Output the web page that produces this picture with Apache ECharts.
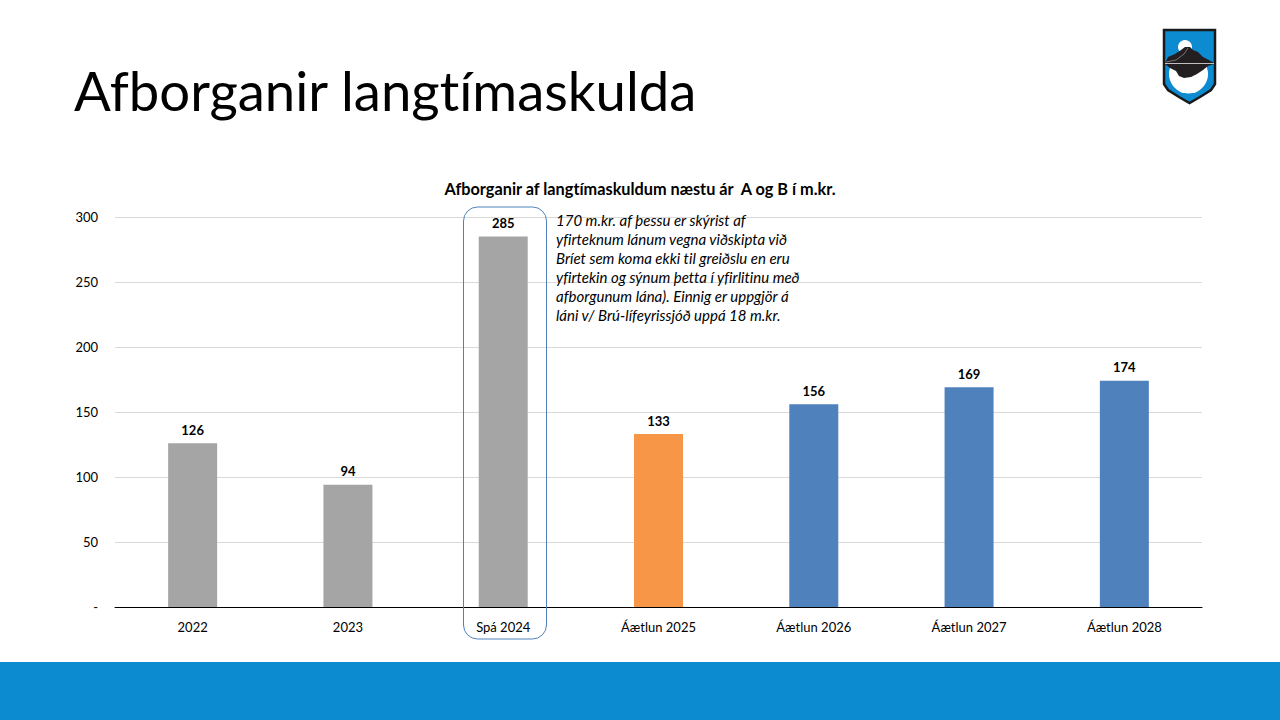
<!DOCTYPE html>
<html><head><meta charset="utf-8">
<style>html,body{margin:0;padding:0;background:#fff}#c{width:1280px;height:720px}
#c text{font-variant-ligatures:none}</style>
<script src="https://cdn.jsdelivr.net/npm/echarts@6/dist/echarts.min.js"></script></head>
<body><div id="c"></div>
<script>
const categories=['2022','2023','Spá 2024','Áætlun 2025','Áætlun 2026','Áætlun 2027','Áætlun 2028'];
const values=[126,94,285,133,156,169,174];
const barColors=['#A5A5A5','#A5A5A5','#A5A5A5','#F79646','#4F81BD','#4F81BD','#4F81BD'];
const noteLines=['170 m.kr. af þessu er skýrist af','yfirteknum lánum vegna viðskipta við','Bríet sem koma ekki til greiðslu en eru','yfirtekin og sýnum þetta í yfirlitinu með','afborgunum lána). Einnig er uppgjör á','láni v/ Brú-lífeyrissjóð uppá 18 m.kr.'];
const F='Lato, "Open Sans", sans-serif';
const chart=echarts.init(document.getElementById('c'),null,{renderer:'svg'});
chart.setOption({
 animation:false,backgroundColor:'#fff',
 title:[
  {text:'Afborganir langtímaskulda',left:74,top:62,padding:0,textStyle:{fontFamily:F,fontSize:54.5,fontWeight:'normal',color:'#000'}},
  {text:'Afborganir af langtímaskuldum næstu ár  A og B í m.kr.',left:640,top:180,padding:0,textAlign:'center',textStyle:{fontFamily:F,fontSize:16.3,fontWeight:'bold',color:'#000'}}
 ],
 grid:{left:115,right:78,top:217,bottom:113},
 xAxis:{type:'category',data:categories,axisTick:{show:false},
  axisLine:{lineStyle:{color:'#000',width:1}},
  axisLabel:{margin:13,fontFamily:F,fontSize:13,color:'#000'}},
 yAxis:{type:'value',min:0,max:300,interval:50,
  axisLine:{show:false},axisTick:{show:false},
  splitLine:{lineStyle:{color:'#D9D9D9',width:1}},
  axisLabel:{margin:17,fontFamily:F,fontSize:13,color:'#000',formatter:v=>v===0?'-':String(v)}},
 series:[{type:'bar',barWidth:49,
  data:values.map((v,i)=>({value:v,itemStyle:{color:barColors[i]}})),
  label:{show:true,position:'top',distance:7,fontFamily:F,fontSize:13,fontWeight:'bold',color:'#000'}}],
 graphic:[
  {type:'rect',z:10,shape:{x:0,y:662,width:1280,height:58},style:{fill:'#0D8BD0'}},
  {type:'rect',z:10,shape:{x:463.5,y:207,width:83,height:432,r:14},style:{fill:'none',stroke:'#4F81BD',lineWidth:1}},
  {type:'text',z:10,x:556,y:210,style:{text:noteLines.join('\n'),fontFamily:F,fontStyle:'italic',fontSize:15,lineHeight:19,fill:'#000'}},
  {type:'group',z:10,children:[
   {type:'polygon',shape:{points:[[1164,30],[1215,30],[1215,84],[1211,90],[1200,97],[1189.5,103],[1179,97],[1168,90],[1164,84]]},style:{fill:'#0D8BD0',stroke:'#1A1A1A',lineWidth:2.5}},
   {type:'circle',shape:{cx:1185,cy:47,r:7},style:{fill:'#fff'}},
   {type:'circle',shape:{cx:1188.5,cy:74,r:19.5},style:{fill:'#fff'}},
   {type:'polygon',shape:{points:[[1165,63],[1168,57],[1175,54],[1181,50],[1185,47],[1190,47],[1193,50],[1198,52],[1203,57],[1209,60],[1214,63]]},style:{fill:'#231F20'}},
   {type:'polygon',shape:{points:[[1165,64],[1214,64],[1208,66],[1203,70],[1197,74],[1191,77],[1184,78],[1179,76],[1176,71],[1170,68]]},style:{fill:'#231F20'}},
   {type:'polyline',shape:{points:[[1166,62],[1176,60],[1184,54],[1188,48]]},style:{stroke:'#8C8C8C',lineWidth:0.8,fill:'none'}},
   {type:'line',shape:{x1:1165,y1:63.5,x2:1214,y2:63.5},style:{stroke:'#BFBFBF',lineWidth:1}}
  ]}
 ]
});
</script></body></html>
